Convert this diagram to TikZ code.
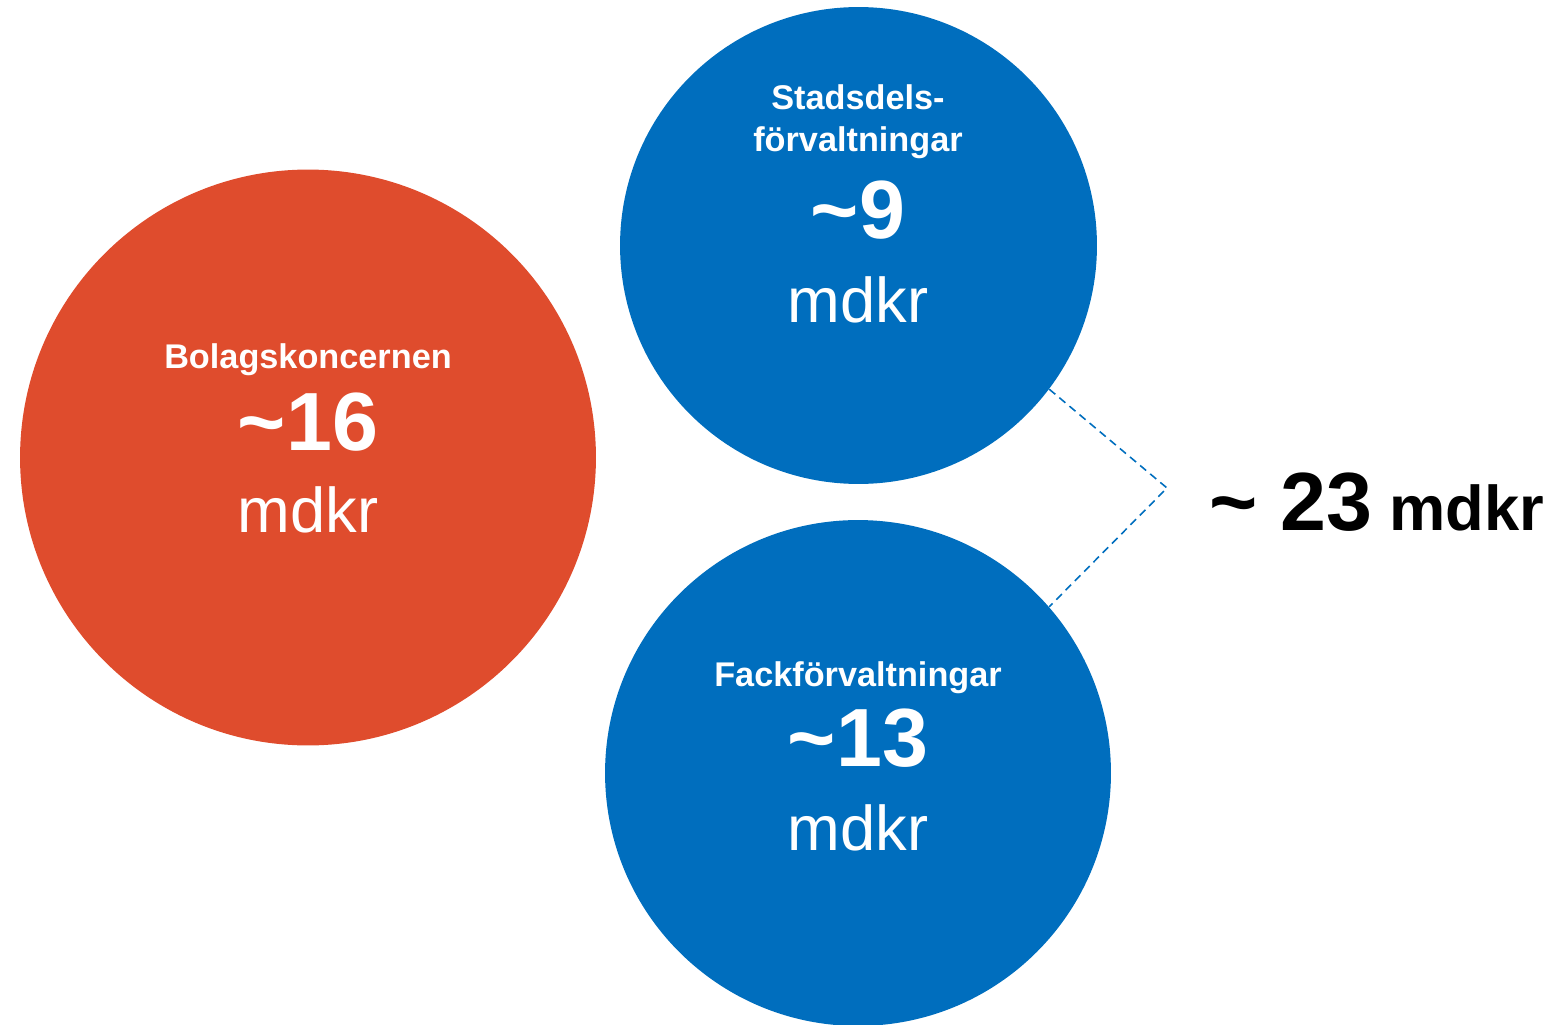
\documentclass[tikz,border=0pt]{standalone}
\usepackage{fontspec}
\setmainfont{Liberation Sans}
\usepackage{tikz}
\usetikzlibrary{positioning, calc}

\definecolor{bolagred}{HTML}{DF4C2D}
\definecolor{forvblue}{HTML}{006EBE}

\begin{document}
\begin{tikzpicture}[x=0.02cm, y=-0.02cm,
		circ/.style={circle, draw=none, inner sep=0pt},
		lbl/.style={anchor=base, text=white, inner sep=0pt, font=\fontsize{19.5}{23.8}\selectfont\bfseries, align=center},
		num/.style={anchor=base, text=white, inner sep=0pt, font=\fontsize{47}{50}\selectfont\bfseries},
		unit/.style={anchor=base, text=white, inner sep=0pt, font=\fontsize{36}{40}\selectfont}]
		
		\useasboundingbox (0, 0) rectangle (1554, 1024);
		
		% Bolag
		\node[circ, fill=bolagred, minimum size=11.52cm] (bolag) at (308, 457.5) {};
		\node[lbl] (bolagname) at (308, 368) {Bolagskoncernen};
		\node[num] (bolagnum) at (308, 450) {\textasciitilde16};
		\node[unit] (bolagunit) at (308, 532) {mdkr};
		
		% Stadsdelsforvaltningar
		\node[circ, fill=forvblue, minimum size=9.54cm] (sdf) at (858.5, 245.5) {};
		\node[lbl] (sdfname1) at (858, 110) {Stadsdels-};
		\node[lbl] (sdfname2) at (858, 152) {förvaltningar};
		\node[num] (sdfnum) at (858, 238) {\textasciitilde9};
		\node[unit] (sdfunit) at (858, 322) {mdkr};
		
		% Fackforvaltningar
		\node[circ, fill=forvblue, minimum size=10.12cm] (fack) at (858, 773) {};
		\node[lbl] (fackname) at (858, 686) {Fackförvaltningar};
		\node[num] (facknum) at (858, 766) {\textasciitilde13};
		\node[unit] (fackunit) at (858, 850) {mdkr};
		
		% Bracket
		\coordinate (tip) at (1167, 488);
		\draw[forvblue, line width=0.9pt, dash pattern=on 4.5pt off 3pt] (sdf.-37) -- (tip) -- (fack.41);
		
		% Total
		\node[anchor=base, inner sep=0pt, font=\fontsize{47}{50}\selectfont\bfseries] (totnum) at (1291, 530) {\textasciitilde{} 23};
		\node[anchor=base, inner sep=0pt, font=\fontsize{36}{40}\selectfont\bfseries] (totunit) at (1467, 530) {mdkr};
		
	\end{tikzpicture}
\end{document}
